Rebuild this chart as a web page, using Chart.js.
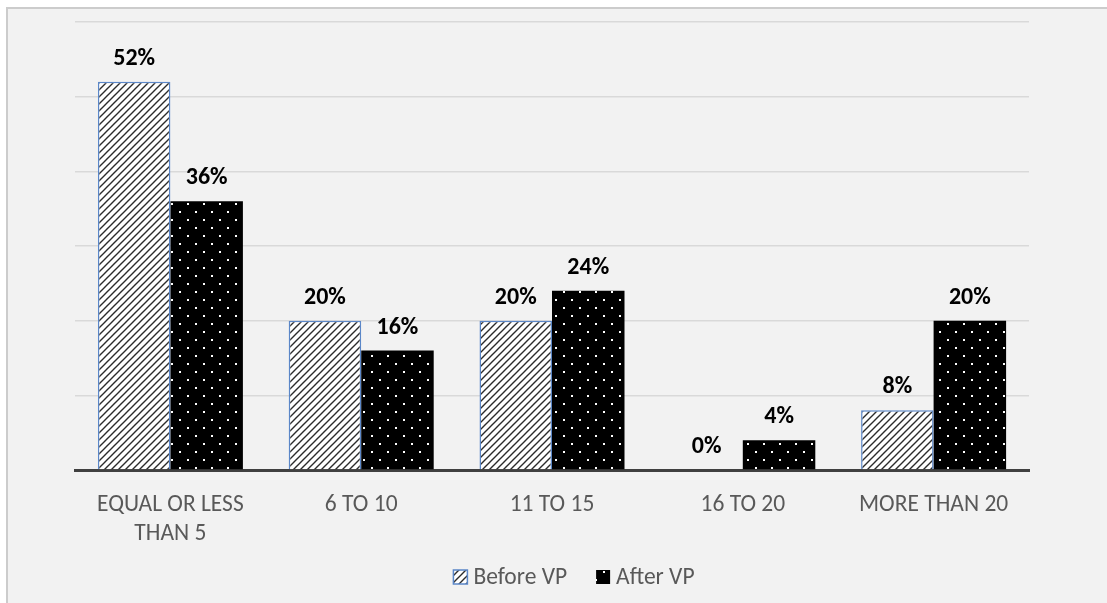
<!DOCTYPE html>
<html>
<head>
<meta charset="utf-8">
<script src="https://cdn.jsdelivr.net/npm/chart.js@4.4.1/dist/chart.umd.min.js"></script>
<style>
  html, body { margin: 0; padding: 0; background: #ffffff; overflow: hidden; }
  #frame { position: absolute; left: 6px; top: 7px; right: -10px; bottom: -10px;
           background: #f2f2f2; border-left: 2px solid #cccccc; border-top: 2px solid #cccccc; }
  #wrap { position: absolute; left: 0; top: 0; width: 1107px; height: 603px; }
</style>
</head>
<body>
<div id="frame"></div>
<div id="wrap"><canvas id="chart" width="1107" height="603"></canvas></div>
<script>
const categories = [['EQUAL OR LESS', 'THAN 5'], '6 TO 10', '11 TO 15', '16 TO 20', 'MORE THAN 20'];
const beforeVP = [52, 20, 20, 0, 8];
const afterVP = [36, 16, 24, 4, 20];
const seriesNames = ['Before VP', 'After VP'];

const FONT = 'Carlito, Lato, "Open Sans", sans-serif';

// diagonal hatch, like the office "wide upward diagonal" fill
function hatchPattern() {
  const c = document.createElement('canvas');
  c.width = 7; c.height = 7;
  const g = c.getContext('2d');
  g.fillStyle = '#ffffff';
  g.fillRect(0, 0, 7, 7);
  g.strokeStyle = '#2b2b2b';
  g.lineWidth = 1.4;
  g.beginPath();
  g.moveTo(-1, 8); g.lineTo(8, -1);
  g.moveTo(-4, 4); g.lineTo(4, -4);
  g.moveTo(3, 11); g.lineTo(11, 3);
  g.stroke();
  return g.createPattern(c, 'repeat');
}

// black fill with staggered white dots
function dotPattern() {
  const c = document.createElement('canvas');
  c.width = 16; c.height = 16;
  const g = c.getContext('2d');
  g.fillStyle = '#000000';
  g.fillRect(0, 0, 16, 16);
  g.fillStyle = '#ffffff';
  g.fillRect(3, 3, 2, 2);
  g.fillRect(11, 11, 2, 2);
  return g.createPattern(c, 'repeat');
}

const hatch = hatchPattern();
const dots = dotPattern();

const valueLabels = {
  id: 'valueLabels',
  afterDatasetsDraw(chart) {
    const ctx = chart.ctx;
    ctx.save();
    ctx.font = 'bold 24px ' + FONT;
    ctx.fillStyle = '#000000';
    ctx.textAlign = 'center';
    ctx.textBaseline = 'alphabetic';
    chart.data.datasets.forEach((ds, i) => {
      chart.getDatasetMeta(i).data.forEach((bar, j) => {
        ctx.fillText(ds.data[j] + '%', bar.x, bar.y - 17);
      });
    });
    ctx.restore();
  }
};

// legend drawn by hand so the spacing can follow the original
const bottomLegend = {
  id: 'bottomLegend',
  afterDraw(chart) {
    const ctx = chart.ctx;
    const items = Chart.defaults.plugins.legend.labels.generateLabels(chart);
    const box = 14, gapText = 6, gapItem = 29, cy = 577, cx = 574;
    ctx.save();
    ctx.font = '23.5px ' + FONT;
    const widths = items.map(it => box + gapText + ctx.measureText(it.text).width);
    const total = widths.reduce((a, b) => a + b, 0) + gapItem * (items.length - 1);
    let x = cx - total / 2;
    items.forEach((it, i) => {
      ctx.fillStyle = it.fillStyle;
      ctx.fillRect(x, cy - box / 2, box, box);
      if (i === 0) {
        ctx.strokeStyle = it.strokeStyle;
        ctx.lineWidth = 1.5;
        ctx.strokeRect(x, cy - box / 2, box, box);
      }
      ctx.fillStyle = '#595959';
      ctx.textAlign = 'left';
      ctx.textBaseline = 'middle';
      ctx.fillText(it.text, x + box + gapText, cy + 1);
      x += widths[i] + gapItem;
    });
    ctx.restore();
  }
};

new Chart(document.getElementById('chart'), {
  type: 'bar',
  data: {
    labels: categories,
    datasets: [
      {
        label: seriesNames[0],
        data: beforeVP,
        backgroundColor: hatch,
        borderColor: '#5b87c8',
        borderWidth: (c) => (c.raw === 0 ? 0 : 1.5),
        borderSkipped: 'bottom'
      },
      {
        label: seriesNames[1],
        data: afterVP,
        backgroundColor: dots,
        borderColor: '#9a9a9a',
        borderWidth: 0
      }
    ]
  },
  options: {
    responsive: false,
    animation: false,
    layout: { padding: { left: 75, right: 78, top: 22, bottom: 33 } },
    datasets: { bar: { categoryPercentage: 0.76, barPercentage: 1.0 } },
    scales: {
      x: {
        grid: { display: false, drawTicks: false },
        border: { display: true, color: '#404040', width: 3 },
        ticks: { color: '#595959', font: { family: FONT, size: 23.5, lineHeight: 1.234 }, padding: 21, maxRotation: 0 }
      },
      y: {
        min: 0, max: 60,
        ticks: { display: false, stepSize: 10 },
        grid: { color: '#d9d9d9', lineWidth: 1.5, drawTicks: false },
        border: { display: false }
      }
    },
    plugins: {
      legend: { display: false },
      tooltip: { enabled: false }
    }
  },
  plugins: [valueLabels, bottomLegend]
});
</script>
</body>
</html>
